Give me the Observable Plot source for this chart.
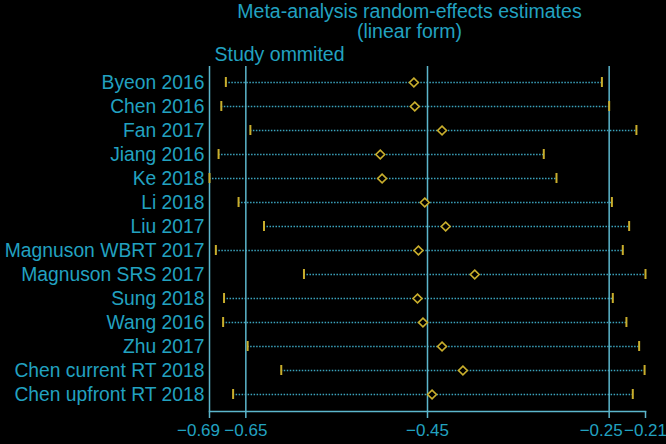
<!DOCTYPE html>
<html>
<head>
<meta charset="utf-8">
<script src="https://cdn.jsdelivr.net/npm/d3@7"></script>
<script src="https://cdn.jsdelivr.net/npm/@observablehq/plot@0.6"></script>
<style>
  html, body { margin: 0; padding: 0; background: #000; }
  #chart svg { display: block; }
</style>
</head>
<body>
<div id="chart"></div>
<script>
const studies = [
  "Byeon 2016", "Chen 2016", "Fan 2017", "Jiang 2016", "Ke 2018", "Li 2018",
  "Liu 2017", "Magnuson WBRT 2017", "Magnuson SRS 2017", "Sung 2018",
  "Wang 2016", "Zhu 2017", "Chen current RT 2018", "Chen upfront RT 2018"
];
const estimate = [-0.465, -0.464, -0.434, -0.502, -0.500, -0.453, -0.430, -0.460, -0.398, -0.461, -0.455, -0.434, -0.411, -0.445];
const lower    = [-0.672, -0.677, -0.645, -0.680, -0.690, -0.658, -0.630, -0.683, -0.586, -0.674, -0.675, -0.648, -0.611, -0.664];
const upper    = [-0.258, -0.250, -0.220, -0.322, -0.308, -0.247, -0.228, -0.235, -0.210, -0.246, -0.231, -0.217, -0.211, -0.224];
const xTicks = [-0.69, -0.65, -0.45, -0.25, -0.21];
const tickLabels = ["−0.69", "−0.65", "−0.45", "−0.25", "−0.21"];
const refLines = [-0.65, -0.45, -0.25];
const titleLine1 = "Meta-analysis random-effects estimates";
const titleLine2 = "(linear form)";
const columnTitle = "Study ommited";

const rows = studies.map((s, i) => ({study: s, est: estimate[i], lo: lower[i], hi: upper[i]}));
const labelOf = new Map(xTicks.map((t, i) => [t, tickLabels[i]]));

const textColor = "#22a2c0";
const lineColor = "#5cb6cc";
const dotColor = "#3ba3bd";
const yellow = "#c9ae2c";

const plot = Plot.plot({
  width: 666,
  height: 444,
  marginLeft: 209,
  marginRight: 21,
  marginTop: 66,
  marginBottom: 33,
  style: {background: "#000", color: textColor, fontFamily: "'Liberation Sans', Arial, sans-serif", fontSize: "19px"},
  x: {domain: [-0.69, -0.21], axis: null},
  y: {type: "band", domain: studies, range: [64.6, 412.4], padding: 0, axis: null},
  marks: [
    Plot.ruleY(rows, {y: "study", x1: "lo", x2: "hi", stroke: dotColor, strokeWidth: 1.5, strokeDasharray: "1.5,1.5"}),
    Plot.ruleX(refLines, {stroke: lineColor, strokeWidth: 1.5}),
    Plot.ruleX([-0.69], {stroke: lineColor, strokeWidth: 1.5}),
    Plot.frame({anchor: "bottom", stroke: lineColor, strokeWidth: 1.5}),
    Plot.axisX({ticks: xTicks, tickSize: 7, stroke: lineColor, strokeWidth: 1.5, tickFormat: () => "", label: null}),
    Plot.axisX({ticks: [-0.65, -0.45, -0.21], tickSize: 0, tickPadding: 12, tickFormat: d => labelOf.get(d), fontSize: 17, fill: textColor, label: null}),
    Plot.axisX({ticks: [-0.69], tickSize: 0, tickPadding: 12, tickFormat: d => labelOf.get(d), fontSize: 17, fill: textColor, dx: -11, label: null}),
    Plot.axisX({ticks: [-0.25], tickSize: 0, tickPadding: 12, tickFormat: d => labelOf.get(d), fontSize: 17, fill: textColor, dx: -8, label: null}),
    Plot.axisY({anchor: "left", tickSize: 0, tickPadding: 5, fontSize: 19.3, fill: textColor, label: null}),
    Plot.tickX(rows, {x: "lo", y: "study", stroke: yellow, strokeWidth: 2, insetTop: 7, insetBottom: 7}),
    Plot.tickX(rows, {x: "hi", y: "study", stroke: yellow, strokeWidth: 2, insetTop: 7, insetBottom: 7}),
    Plot.dot(rows, {x: "est", y: "study", symbol: "diamond2", r: 4, stroke: yellow, fill: "#000", strokeWidth: 1.6}),
    Plot.text([titleLine1], {frameAnchor: "top", dx: -18, dy: -54.5, lineAnchor: "middle", fill: textColor, fontSize: 19.5}),
    Plot.text([titleLine2], {frameAnchor: "top", dx: -18, dy: -34.5, lineAnchor: "middle", fill: textColor, fontSize: 19.5}),
    Plot.text([columnTitle], {frameAnchor: "top-left", dx: 5, dy: -12, lineAnchor: "middle", textAnchor: "start", fill: textColor, fontSize: 19.5})
  ]
});
document.getElementById("chart").appendChild(plot);
</script>
</body>
</html>
